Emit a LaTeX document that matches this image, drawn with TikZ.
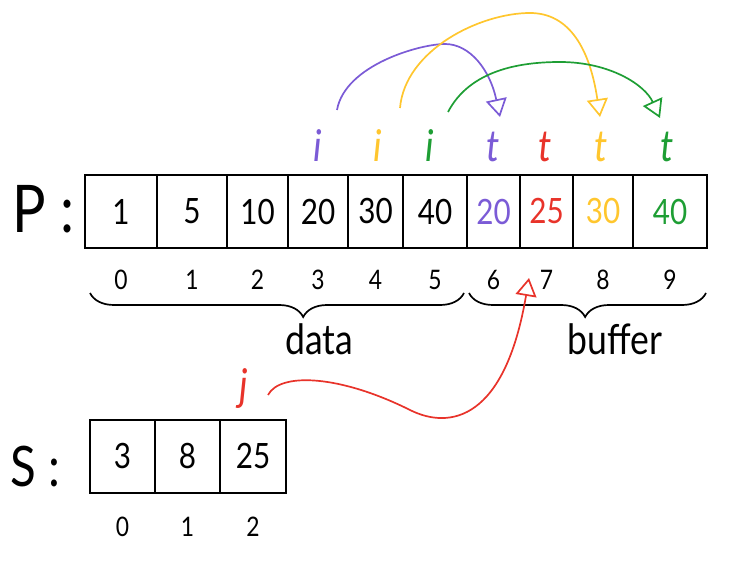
\documentclass[tikz,border=0pt]{standalone}
\usepackage{fontspec}
\setmainfont{Lato}[FakeStretch=0.85]
\usetikzlibrary{arrows.meta,decorations.pathreplacing}
\definecolor{cpur}{HTML}{7B5BD6}
\definecolor{cred}{HTML}{E8332A}
\definecolor{cyel}{HTML}{FFC62E}
\definecolor{cgrn}{HTML}{1E9E34}
\begin{document}
\begin{tikzpicture}[x=1bp,y=-1bp,
 cell/.style={draw, line width=2.4bp, minimum height=73bp, inner sep=0pt, font=\fontsize{35}{35}\selectfont},
 idx/.style={inner sep=0pt, anchor=base, font=\fontsize{27}{27}\selectfont},
 ptr/.style={inner sep=0pt, anchor=base, font=\fontsize{44}{44}\selectfont\itshape},
 lbl/.style={inner sep=0pt, anchor=base, font=\fontsize{42}{42}\selectfont},
 arrlabel/.style={inner sep=0pt, anchor=base west},
 arr/.style={line width=1.7bp, -{Triangle[open, length=18bp, width=21bp, line width=1.7bp]}},
 brc/.style={line width=1.7bp, decorate, decoration={brace, mirror, amplitude=24bp}}
]
\useasboundingbox (0,0) rectangle (730,562);

% P array
\node[arrlabel, font=\fontsize{66}{66}\selectfont] (Plbl) at (12,233) {P :};
\foreach \a/\b/\v/\c [count=\k from 0] in {85/157/1/black,157/227/5/black,227/288/10/black,288/348/20/black,348/403/30/black,403/467/40/black,467/520/20/cpur,520/573/25/cred,573/633/30/cyel,633/707/40/cgrn}{
  \node[cell, minimum width={(\b-\a)*1bp}, text=\c] (p\k) at ({(\a+\b)/2},211.5) {\v};
  \node[idx] (pi\k) at ({(\a+\b)/2},290) {\k};
}

% braces
\coordinate (d1) at (90,293); \coordinate (d2) at (464,293);
\coordinate (b1) at (469,293); \coordinate (b2) at (706,293);
\draw[brc, decoration={aspect=0.57}] (d1) -- (d2);
\draw[brc, decoration={aspect=0.49}] (b1) -- (b2);
\node[lbl] (data) at (319,354) {data};
\node[lbl] (buf) at (615,354) {buffer};

% pointers
\node[ptr, text=cpur] (ip) at (318,162) {i};
\node[ptr, text=cyel] (iy) at (378,162) {i};
\node[ptr, text=cgrn] (ig) at (430,162) {i};
\node[ptr, text=cpur] (tp) at (493,162) {t};
\node[ptr, text=cred] (tr) at (545,162) {t};
\node[ptr, text=cyel] (ty) at (601,162) {t};
\node[ptr, text=cgrn] (tg) at (667,162) {t};

\coordinate (sp) at (337,110); \coordinate (ep) at (500,117);
\coordinate (sy) at (400,108); \coordinate (ey) at (600,117);
\coordinate (sg) at (448,112); \coordinate (eg) at (660,118);
\draw[arr, cpur] (sp) .. controls (345,65) and (420,44) .. (445,44) .. controls (470,44) and (490,70) .. (ep);
\draw[arr, cyel] (sy) .. controls (405,50) and (480,13) .. (530,13) .. controls (570,13) and (590,50) .. (ey);
\draw[arr, cgrn] (sg) .. controls (470,70) and (520,62) .. (560,62) .. controls (610,62) and (645,85) .. (eg);

% S array
\node[arrlabel, font=\fontsize{56}{56}\selectfont] (Slbl) at (10,486) {S :};
\foreach \a/\b/\v [count=\k from 0] in {90/155/3,155/220/8,220/286/25}{
  \node[cell, minimum width={(\b-\a)*1bp}] (s\k) at ({(\a+\b)/2},456.5) {\v};
  \node[idx] (si\k) at ({(\a+\b)/2},536) {\k};
}

% j pointer
\node[ptr, text=cred] (j) at (244,400) {j};
\coordinate (js) at (268,395); \coordinate (jt) at (529,278);
\draw[arr, cred] (js) .. controls (280,372) and (340,375) .. (410,410) .. controls (450,430) and (505,420) .. (jt);
\end{tikzpicture}
\end{document}
